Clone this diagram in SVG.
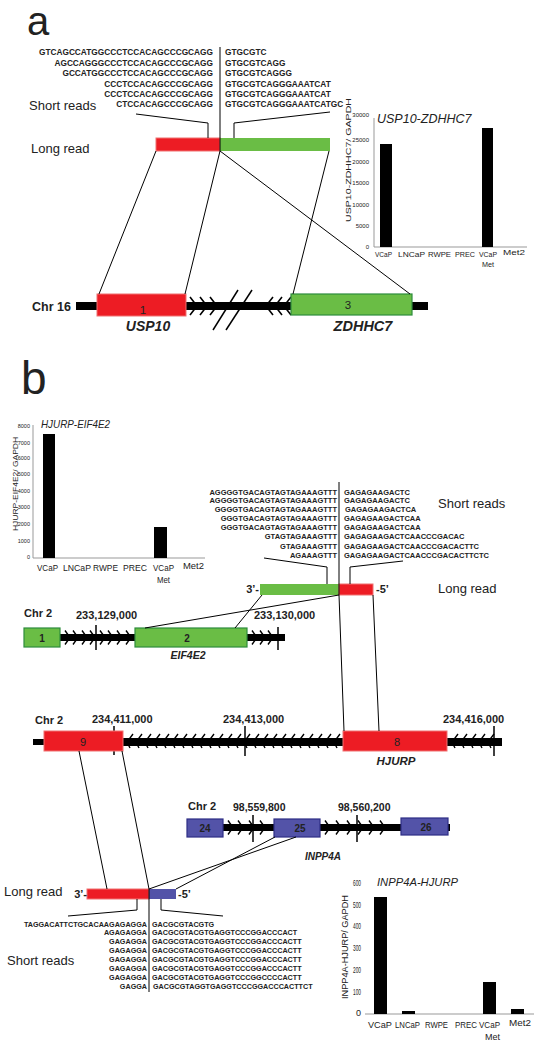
<svg xmlns="http://www.w3.org/2000/svg" width="534" height="1050" viewBox="0 0 534 1050">
<style>
text{font-family:"Liberation Sans",Arial,sans-serif;fill:#222}
.seq{font-weight:bold}
.sa{font-size:8.3px}
.sb{font-size:7.5px}
.sc{font-size:7.2px}
.lbl{font-size:13px}
.chr{font-weight:bold}
.gene{font-weight:bold;font-style:italic}
.num{font-weight:bold;text-anchor:middle}
.ex{text-anchor:middle}
.ttl{font-style:italic}
.yl{text-anchor:end}
.ln{stroke:#000;stroke-width:1;fill:none}
.ax{stroke:#999;stroke-width:1;fill:none}
.bar{fill:#000}
.red{fill:#ed1c24;stroke:#f07070;stroke-width:1}
.green{fill:#6abd45;stroke:#2d8c3c;stroke-width:1.2}
.blue{fill:#5353a8;stroke:#2e2e85;stroke-width:1.2}
.tick{stroke:#000;stroke-width:1.5}
</style>
<defs>
<path id="cR16" d="M0,-9 L7,0 L0,9" fill="none" stroke="#000" stroke-width="1.6"/>
<path id="cL16" d="M7,-9 L0,0 L7,9" fill="none" stroke="#000" stroke-width="1.6"/>
<path id="cR" d="M0,-7 L5,0 L0,7" fill="none" stroke="#000" stroke-width="1.4"/>
<path id="cL" d="M6,-8 L0,0 L3,6" fill="none" stroke="#000" stroke-width="1.4"/>
</defs>

<!-- Panel labels -->
<text x="27" y="35" font-size="40">a</text>
<text x="21" y="394" font-size="46">b</text>

<!-- Panel a short reads -->
<g id="a-short-reads">
<text class="seq sa" x="213" y="55" text-anchor="end">GTCAGCCATGGCCCTCCACAGCCCGCAGG</text>
<text class="seq sa" x="213" y="65.5" text-anchor="end">AGCCAGGGCCCTCCACAGCCCGCAGG</text>
<text class="seq sa" x="213" y="76" text-anchor="end">GCCATGGCCCTCCACAGCCCGCAGG</text>
<text class="seq sa" x="213" y="86.5" text-anchor="end">CCCTCCACAGCCCGCAGG</text>
<text class="seq sa" x="213" y="97" text-anchor="end">CCCTCCACAGCCCGCAGG</text>
<text class="seq sa" x="213" y="107" text-anchor="end">CTCCACAGCCCGCAGG</text>
<text class="seq sa" x="225" y="55">GTGCGTC</text>
<text class="seq sa" x="225" y="65.5">GTGCGTCAGG</text>
<text class="seq sa" x="225" y="76">GTGCGTCAGGG</text>
<text class="seq sa" x="225" y="86.5">GTGCGTCAGGGAAATCAT</text>
<text class="seq sa" x="225" y="97">GTGCGTCAGGGAAATCAT</text>
<text class="seq sa" x="225" y="107">GTGCGTCAGGGAAATCATGC</text>
<text class="lbl" x="29" y="110">Short reads</text>
</g>
<g id="a-long-read">
<rect class="red" x="156" y="138" width="64" height="13"/>
<rect x="220" y="138" width="110" height="13" fill="#6abd45"/>
<text class="lbl" x="31" y="153">Long read</text>
</g>

<!-- Panel a chromosome -->
<g id="a-chr16">
<text class="chr" x="32" y="311" font-size="12.5">Chr 16</text>
<rect class="bar" x="76" y="302" width="352" height="8"/>
<use href="#cR16" x="190" y="306"/>
<use href="#cR16" x="200" y="306"/>
<use href="#cR16" x="210" y="306"/>
<use href="#cL16" x="266" y="306"/>
<use href="#cL16" x="275" y="306"/>
<use href="#cL16" x="284" y="306"/>
<line x1="213" y1="330" x2="238" y2="290" stroke="#000" stroke-width="1.5"/>
<line x1="226" y1="330" x2="252" y2="290" stroke="#000" stroke-width="1.5"/>
</g>
<g id="a-exon1">
<rect class="red" x="97" y="294" width="89" height="22"/>
<text class="ex" x="143" y="314" font-size="11.5" fill="#111">1</text>
<text class="gene" x="148" y="331" font-size="14" text-anchor="middle">USP10</text>
</g>
<g id="a-exon3">
<rect class="green" x="291" y="294" width="121" height="21"/>
<text class="ex" x="348" y="309" font-size="11.5" fill="#111">3</text>
<text class="gene" x="363" y="331" font-size="14.5" text-anchor="middle">ZDHHC7</text>
</g>

<!-- Panel a chart -->
<g id="a-chart">
<text class="ttl" x="377" y="123" font-size="12.5">USP10-ZDHHC7</text>
<line class="ax" x1="374" y1="118" x2="374" y2="247"/>
<line class="ax" x1="374" y1="247" x2="527" y2="247"/>
<g font-size="6">
<text class="yl" x="369" y="117">30000</text>
<text class="yl" x="369" y="142">25000</text>
<text class="yl" x="369" y="164">20000</text>
<text class="yl" x="369" y="185">15000</text>
<text class="yl" x="369" y="207">10000</text>
<text class="yl" x="369" y="228">5000</text>
<text class="yl" x="369" y="249">0</text>
</g>
<text x="0" y="0" font-size="8" text-anchor="middle" transform="translate(351,160) rotate(-90)" textLength="124" lengthAdjust="spacingAndGlyphs">USP10-ZDHHC7/ GAPDH</text>
<rect x="380" y="144" width="12" height="103" fill="#000"/>
<rect x="482" y="128" width="11" height="119" fill="#000"/>
<g font-size="8">
<text x="375" y="257" textLength="17" lengthAdjust="spacingAndGlyphs">VCaP</text>
<text x="398" y="257" textLength="27" lengthAdjust="spacingAndGlyphs">LNCaP</text>
<text x="428" y="257" textLength="23" lengthAdjust="spacingAndGlyphs">RWPE</text>
<text x="455" y="257" textLength="20" lengthAdjust="spacingAndGlyphs">PREC</text>
<text x="479" y="257" textLength="18" lengthAdjust="spacingAndGlyphs">VCaP</text>
<text x="482" y="267" textLength="12" lengthAdjust="spacingAndGlyphs">Met</text>
<text x="503" y="255" textLength="22" lengthAdjust="spacingAndGlyphs">Met2</text>
</g>
</g>

<!-- Panel b chart (HJURP-EIF4E2) -->
<g id="b-chart1">
<text class="ttl" x="41" y="428" font-size="11.5" textLength="69" lengthAdjust="spacingAndGlyphs">HJURP-EIF4E2</text>
<line class="ax" x1="33" y1="425" x2="33" y2="558" stroke="#bbb"/>
<line class="ax" x1="33" y1="558" x2="205" y2="558" stroke="#bbb"/>
<g font-size="5.5">
<text class="yl" x="30" y="428">8000</text>
<text class="yl" x="30" y="445">7000</text>
<text class="yl" x="30" y="460">6000</text>
<text class="yl" x="30" y="476">5000</text>
<text class="yl" x="30" y="493">4000</text>
<text class="yl" x="30" y="509">3000</text>
<text class="yl" x="30" y="526">2000</text>
<text class="yl" x="30" y="543">1000</text>
<text class="yl" x="30" y="559">0</text>
</g>
<text x="0" y="0" font-size="8" text-anchor="middle" transform="translate(18,484) rotate(-90)" textLength="94" lengthAdjust="spacingAndGlyphs">HJURP-EIF4E2/ GAPDH</text>
<rect x="43" y="434" width="12" height="124" fill="#000"/>
<rect x="154" y="527" width="13" height="31" fill="#000"/>
<g font-size="8.5">
<text x="37" y="571" textLength="21" lengthAdjust="spacingAndGlyphs">VCaP</text>
<text x="63" y="571" textLength="28" lengthAdjust="spacingAndGlyphs">LNCaP</text>
<text x="93" y="571" textLength="25" lengthAdjust="spacingAndGlyphs">RWPE</text>
<text x="123" y="571" textLength="24" lengthAdjust="spacingAndGlyphs">PREC</text>
<text x="153" y="571" textLength="21" lengthAdjust="spacingAndGlyphs">VCaP</text>
<text x="157" y="583" textLength="13" lengthAdjust="spacingAndGlyphs">Met</text>
<text x="183" y="569" textLength="21" lengthAdjust="spacingAndGlyphs">Met2</text>
</g>
</g>

<!-- Panel b top short reads -->
<g id="b-short-reads1">
<g class="seq sb" text-anchor="end">
<text x="337" y="494.5">AGGGGTGACAGTAGTAGAAAGTTT</text>
<text x="337" y="503">AGGGGTGACAGTAGTAGAAAGTTT</text>
<text x="337" y="512">GGGGTGACAGTAGTAGAAAGTTT</text>
<text x="337" y="521">GGGTGACAGTAGTAGAAAGTTT</text>
<text x="337" y="530">GGGTGACAGTAGTAGAAAGTTT</text>
<text x="337" y="539">GTAGTAGAAAGTTT</text>
<text x="337" y="548.5">GTAGAAAGTTT</text>
<text x="337" y="557.5">AGAAAGTTT</text>
</g>
<g class="seq sb">
<text x="344" y="494.5">GAGAGAAGACTC</text>
<text x="344" y="503">GAGAGAAGACTC</text>
<text x="345" y="512">GAGAGAAGACTCA</text>
<text x="344" y="521">GAGAGAAGACTCAA</text>
<text x="344" y="530">GAGAGAAGACTCAA</text>
<text x="344" y="539">GAGAGAAGACTCAACCCGACAC</text>
<text x="344" y="548.5">GAGAGAAGACTCAACCCGACACTTC</text>
<text x="344" y="557.5">GAGAGAAGACTCAACCCGACACTTCTC</text>
</g>
<text class="lbl" x="438" y="508">Short reads</text>
</g>
<g id="b-long-read1">
<rect x="260" y="584" width="79" height="11" fill="#6abd45"/>
<rect class="red" x="339" y="584" width="34" height="11"/>
<text class="chr" x="259" y="593" font-size="11" text-anchor="end">3’-</text>
<text class="chr" x="376" y="593" font-size="11">-5’</text>
<text class="lbl" x="438" y="593">Long read</text>
</g>

<!-- EIF4E2 locus -->
<g id="b-eif4e2">
<text class="chr" x="24" y="617" font-size="11">Chr 2</text>
<text class="chr" x="76" y="619" font-size="11">233,129,000</text>
<text class="chr" x="254" y="619" font-size="11">233,130,000</text>
<rect class="bar" x="60" y="634" width="225" height="7"/>
<use href="#cR" x="65" y="637.5"/>
<use href="#cR" x="73" y="637.5"/>
<use href="#cR" x="82" y="637.5"/>
<use href="#cR" x="90" y="637.5"/>
<use href="#cR" x="100" y="637.5"/>
<use href="#cR" x="108" y="637.5"/>
<use href="#cR" x="117" y="637.5"/>
<use href="#cR" x="126" y="637.5"/>
<use href="#cR" x="252" y="637.5"/>
<use href="#cR" x="260" y="637.5"/>
<use href="#cR" x="268" y="637.5"/>
<line class="tick" x1="96" y1="625" x2="96" y2="650"/>
<line class="tick" x1="278" y1="627" x2="278" y2="650"/>
<text class="gene" x="188" y="659" font-size="10.5" text-anchor="middle">EIF4E2</text>
</g>
<g id="b-exon-e1">
<rect class="green" x="24" y="628" width="36" height="19"/>
<text class="num" x="42" y="642" font-size="10">1</text>
</g>
<g id="b-exon-e2">
<rect class="green" x="135" y="628" width="112" height="19"/>
<text class="num" x="187" y="642" font-size="10">2</text>
</g>

<!-- HJURP locus -->
<g id="b-hjurp">
<text class="chr" x="35" y="723.5" font-size="11">Chr 2</text>
<text class="chr" x="92" y="722.5" font-size="11">234,411,000</text>
<text class="chr" x="223" y="722.5" font-size="11">234,413,000</text>
<text class="chr" x="443" y="722.5" font-size="11">234,416,000</text>
<rect class="bar" x="33" y="739" width="12" height="6"/>
<rect class="bar" x="44" y="738" width="458" height="8"/>
<use href="#cL" x="127" y="742"/>
<use href="#cL" x="136" y="742"/>
<use href="#cL" x="145" y="742"/>
<use href="#cL" x="154" y="742"/>
<use href="#cL" x="163" y="742"/>
<use href="#cL" x="172" y="742"/>
<use href="#cL" x="181" y="742"/>
<use href="#cL" x="190" y="742"/>
<use href="#cL" x="199" y="742"/>
<use href="#cL" x="208" y="742"/>
<use href="#cL" x="217" y="742"/>
<use href="#cL" x="226" y="742"/>
<use href="#cL" x="235" y="742"/>
<use href="#cL" x="244" y="742"/>
<use href="#cL" x="253" y="742"/>
<use href="#cL" x="262" y="742"/>
<use href="#cL" x="271" y="742"/>
<use href="#cL" x="280" y="742"/>
<use href="#cL" x="289" y="742"/>
<use href="#cL" x="298" y="742"/>
<use href="#cL" x="307" y="742"/>
<use href="#cL" x="316" y="742"/>
<use href="#cL" x="325" y="742"/>
<use href="#cL" x="334" y="742"/>
<use href="#cL" x="452" y="742"/>
<use href="#cL" x="461" y="742"/>
<use href="#cL" x="470" y="742"/>
<use href="#cL" x="479" y="742"/>
<use href="#cL" x="488" y="742"/>
<line class="tick" x1="114" y1="726" x2="114" y2="755"/>
<line class="tick" x1="245" y1="726" x2="245" y2="756"/>
<line class="tick" x1="494" y1="726" x2="494" y2="756"/>
<text class="gene" x="396" y="765" font-size="11.5" text-anchor="middle">HJURP</text>
</g>
<g id="b-exon-h9">
<rect class="red" x="44" y="731" width="79" height="20"/>
<text class="ex" x="83" y="745.5" font-size="11">9</text>
</g>
<g id="b-exon-h8">
<rect class="red" x="343" y="731" width="104" height="20"/>
<text class="ex" x="397" y="745.5" font-size="11">8</text>
</g>

<!-- INPP4A locus -->
<g id="b-inpp4a">
<text class="chr" x="188" y="810" font-size="11">Chr 2</text>
<text class="chr" x="233" y="811" font-size="10.5">98,559,800</text>
<text class="chr" x="338" y="811" font-size="10.5">98,560,200</text>
<rect class="bar" x="223" y="824" width="227" height="7"/>
<use href="#cR" x="228" y="827.5"/>
<use href="#cR" x="238" y="827.5"/>
<use href="#cR" x="249" y="827.5"/>
<use href="#cR" x="260" y="827.5"/>
<use href="#cR" x="325" y="827.5"/>
<use href="#cR" x="336" y="827.5"/>
<use href="#cR" x="347" y="827.5"/>
<use href="#cR" x="358" y="827.5"/>
<use href="#cR" x="369" y="827.5"/>
<use href="#cR" x="380" y="827.5"/>
<line class="tick" x1="253" y1="815" x2="253" y2="842"/>
<line class="tick" x1="357" y1="815" x2="357" y2="842"/>
<text class="gene" x="323" y="860" font-size="10" text-anchor="middle">INPP4A</text>
</g>
<g id="b-exon-i24">
<rect class="blue" x="187" y="819" width="36" height="18"/>
<text class="num" x="205" y="832" font-size="10">24</text>
</g>
<g id="b-exon-i25">
<rect class="blue" x="274" y="819" width="46" height="18"/>
<text class="num" x="300" y="832" font-size="10">25</text>
</g>
<g id="b-exon-i26">
<rect class="blue" x="401" y="818" width="47" height="17"/>
<text class="num" x="426" y="831" font-size="10">26</text>
</g>

<!-- Bottom long read + short reads -->
<g id="b-long-read2">
<rect class="red" x="87" y="889" width="62" height="10"/>
<rect x="149" y="889" width="27" height="10" fill="#5353a8"/>
<text class="chr" x="87" y="898" font-size="11" text-anchor="end">3’-</text>
<text class="chr" x="178" y="898" font-size="11">-5’</text>
<text class="lbl" x="4" y="896">Long read</text>
</g>
<g id="b-short-reads2">
<g class="seq sc" text-anchor="end">
<text x="147" y="926.5">TAGGACATTCTGCACAAGAGAGGA</text>
<text x="147" y="935">AGAGAGGA</text>
<text x="147" y="943.5">GAGAGGA</text>
<text x="147" y="952.5">GAGAGGA</text>
<text x="147" y="961.5">GAGAGGA</text>
<text x="147" y="970.5">GAGAGGA</text>
<text x="147" y="980">GAGAGGA</text>
<text x="147" y="989">GAGGA</text>
</g>
<g class="seq sc">
<text x="152" y="926.5">GACGCGTACGTG</text>
<text x="152" y="935">GACGCGTACGTGAGGTCCCGGACCCACT</text>
<text x="152" y="943.5">GACGCGTACGTGAGGTCCCGGACCCACTT</text>
<text x="152" y="952.5">GACGCGTACGTGAGGTCCCGGACCCACTT</text>
<text x="152" y="961.5">GACGCGTACGTGAGGTCCCGGACCCACTT</text>
<text x="152" y="970.5">GACGCGTACGTGAGGTCCCGGACCCACTT</text>
<text x="152" y="980">GACGCGTACGTGAGGTCCCGGCCCCACTT</text>
<text x="153" y="989">GACGCGTAGGTGAGGTCCCGGACCCACTTCT</text>
</g>
<text class="lbl" x="7" y="965">Short reads</text>
</g>

<!-- Panel b chart (INPP4A-HJURP) -->
<g id="b-chart2">
<text class="ttl" x="377" y="886" font-size="11" textLength="81" lengthAdjust="spacingAndGlyphs">INPP4A-HJURP</text>
<line class="ax" x1="365" y1="1014" x2="534" y2="1014" stroke="#ccc"/>
<g font-size="9">
<text class="yl" x="361" y="886" textLength="8" lengthAdjust="spacingAndGlyphs">600</text>
<text class="yl" x="361" y="908" textLength="8" lengthAdjust="spacingAndGlyphs">500</text>
<text class="yl" x="361" y="929" textLength="8" lengthAdjust="spacingAndGlyphs">400</text>
<text class="yl" x="361" y="951" textLength="8" lengthAdjust="spacingAndGlyphs">300</text>
<text class="yl" x="361" y="973" textLength="8" lengthAdjust="spacingAndGlyphs">200</text>
<text class="yl" x="361" y="995" textLength="8" lengthAdjust="spacingAndGlyphs">100</text>
<text class="yl" x="361" y="1016">0</text>
</g>
<text x="0" y="0" font-size="8.5" text-anchor="middle" transform="translate(348,947) rotate(-90)" textLength="104" lengthAdjust="spacingAndGlyphs">INPP4A-HJURP/ GAPDH</text>
<rect x="374" y="897" width="13" height="117" fill="#000"/>
<rect x="402" y="1011" width="13" height="3" fill="#000"/>
<rect x="483" y="982" width="13" height="32" fill="#000"/>
<rect x="511" y="1009" width="13" height="5" fill="#000"/>
<g font-size="8.5">
<text x="368" y="1028" textLength="24" lengthAdjust="spacingAndGlyphs">VCaP</text>
<text x="395" y="1028" textLength="25" lengthAdjust="spacingAndGlyphs">LNCaP</text>
<text x="425" y="1028" textLength="23" lengthAdjust="spacingAndGlyphs">RWPE</text>
<text x="455" y="1028" textLength="22" lengthAdjust="spacingAndGlyphs">PREC</text>
<text x="479" y="1028" textLength="21" lengthAdjust="spacingAndGlyphs">VCaP</text>
<text x="485" y="1040" textLength="15" lengthAdjust="spacingAndGlyphs">Met</text>
<text x="509" y="1026" textLength="22" lengthAdjust="spacingAndGlyphs">Met2</text>
</g>
</g>

<!-- Connectors -->
<g id="connectors" class="ln">
<line x1="220" y1="47" x2="220" y2="151"/>
<polyline points="136,114 208,123 208,138"/>
<polyline points="234,138 234,123 330,112"/>
<line x1="156" y1="151" x2="99" y2="294"/>
<line x1="220" y1="151" x2="185" y2="294"/>
<line x1="329" y1="151" x2="293" y2="294"/>
<line x1="220" y1="151" x2="410" y2="294"/>
<line x1="339" y1="482" x2="339" y2="595"/>
<polyline points="264,558 327,567 327,584"/>
<polyline points="350,584 350,567 403,561"/>
<line x1="262" y1="595" x2="235" y2="628"/>
<line x1="339" y1="595" x2="145" y2="628"/>
<line x1="339" y1="595" x2="344" y2="731"/>
<line x1="373" y1="595" x2="379" y2="731"/>
<line x1="79" y1="751" x2="107" y2="889"/>
<line x1="122" y1="751" x2="149" y2="889"/>
<line x1="275" y1="837" x2="176" y2="889"/>
<line x1="296" y1="837" x2="149" y2="889"/>
<line x1="149" y1="889" x2="149" y2="992"/>
<polyline points="68,916 137,910 137,899"/>
<polyline points="161,899 161,910 223,916"/>
</g>
</svg>
